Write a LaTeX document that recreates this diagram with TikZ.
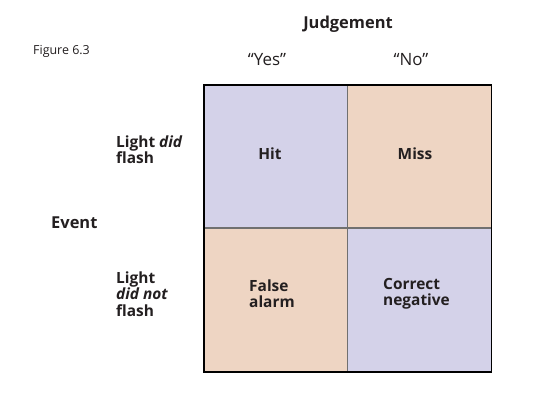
\documentclass[tikz,border=0pt]{standalone}
\usepackage{fontspec}
\setmainfont{Open Sans}
\definecolor{lav}{HTML}{D4D2E9}
\definecolor{peach}{HTML}{EED5C3}
\definecolor{txt}{HTML}{231F20}
\definecolor{grid}{HTML}{707070}
\begin{document}
\begin{tikzpicture}[x=1bp,y=-1bp,
  cell/.style={draw=grid,line width=1.1bp,minimum width=144bp,minimum height=144bp,inner sep=0pt,outer sep=0pt},
  lbl/.style={font=\fontsize{15.5}{16.3}\selectfont\bfseries,text=txt,align=left,inner sep=0pt},
  head/.style={font=\fontsize{16.5}{17}\selectfont\bfseries,text=txt,inner sep=0pt},
  quote/.style={font=\fontsize{17}{18}\selectfont,text=txt,inner sep=0pt}]
\useasboundingbox (0,0) rectangle (553,417);
\node[cell,fill=lav] (c11) at (276,157) {};
\node[cell,fill=peach] (c12) at (419.5,157) {};
\node[cell,fill=peach] (c21) at (276,300) {};
\node[cell,fill=lav] (c22) at (419.5,300) {};
\draw[black,line width=1.3bp] (c11.north west) rectangle (c22.south east);
\node[font=\fontsize{12.5}{13}\selectfont,text=txt,anchor=west,inner sep=0pt] (fig) at (33,51) {Figure 6.3};
\node[head] (judg) at (348,24.5) {Judgement};
\node[quote] (yes) at (267,60) {“Yes”};
\node[quote] (no) at (411,60) {“No”};
\node[head,anchor=west] (event) at (51,222.5) {Event};
\node[lbl,anchor=west] (did) at (116,150) {Light \textit{did}\\flash};
\node[lbl,anchor=west] (didnot) at (116,294) {Light\\\textit{did not}\\flash};
\node[lbl] (hit) at (270,153.5) {Hit};
\node[lbl] (miss) at (415,153.5) {Miss};
\node[lbl,anchor=west] (fa) at (249,294) {False\\alarm};
\node[lbl,anchor=west] (cn) at (383,294) {Correct\\negative};
\end{tikzpicture}
\end{document}
